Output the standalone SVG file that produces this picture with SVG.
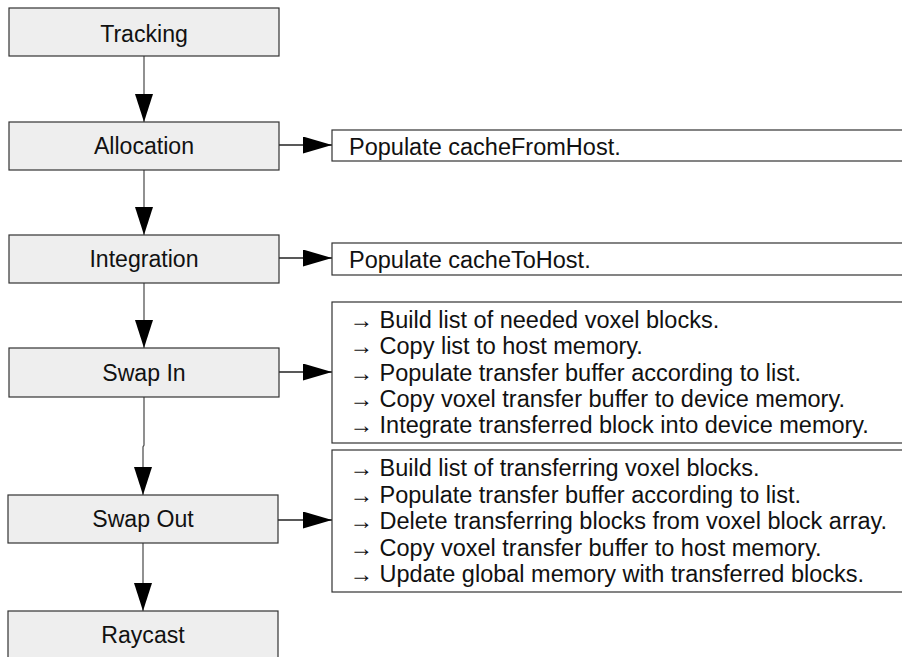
<svg xmlns="http://www.w3.org/2000/svg" width="902" height="657" viewBox="0 0 902 657">
<style>
.node rect{fill:#eeeeee;stroke:#333;stroke-width:1.2}
.note rect{fill:#fff;stroke:#333;stroke-width:1.2}
text{font-family:"Liberation Sans",Arial,sans-serif;font-size:23.1px;fill:#111}
.note text{font-size:23.5px}
.c{text-anchor:middle}
.conn path{fill:none;stroke:#555;stroke-width:1.3}
.conn path.r{stroke:#222}
</style>
<defs>
<marker id="ah" viewBox="0 0 28 18" refX="28" refY="9" markerWidth="28" markerHeight="18" markerUnits="userSpaceOnUse" orient="auto">
<path d="M0,0 L28,9 L0,18 Z" fill="#000"/>
</marker>
<marker id="ahr" viewBox="0 0 29 17" refX="29" refY="8.5" markerWidth="29" markerHeight="17" markerUnits="userSpaceOnUse" orient="auto">
<path d="M0,0 L29,8.5 L0,17 Z" fill="#000"/>
</marker>
</defs>
<g id="connectors" class="conn">
<path d="M144,56 V122" marker-end="url(#ah)"/>
<path d="M144,170 V235" marker-end="url(#ah)"/>
<path d="M144,283 V348" marker-end="url(#ah)"/>
<path d="M144,397 V445 L143,447 V495" marker-end="url(#ah)"/>
<path d="M143,543 V611" marker-end="url(#ah)"/>
<path class="r" d="M279,145 H332" marker-end="url(#ahr)"/>
<path class="r" d="M279,258 H332" marker-end="url(#ahr)"/>
<path class="r" d="M279,372 H332" marker-end="url(#ahr)"/>
<path class="r" d="M278,520 H332" marker-end="url(#ahr)"/>
</g>
<g id="tracking" class="node"><rect x="9" y="8" width="270" height="48"/><text class="c" x="144" y="41.5">Tracking</text></g>
<g id="allocation" class="node"><rect x="9" y="122" width="270" height="48"/><text class="c" x="144" y="154">Allocation</text></g>
<g id="integration" class="node"><rect x="9" y="235" width="270" height="48"/><text class="c" x="144" y="267">Integration</text></g>
<g id="swapin" class="node"><rect x="9" y="348" width="270" height="49"/><text class="c" x="144" y="381">Swap In</text></g>
<g id="swapout" class="node"><rect x="8" y="495" width="270" height="48"/><text class="c" x="143" y="527">Swap Out</text></g>
<g id="raycast" class="node"><rect x="8" y="611" width="270" height="48"/><text class="c" x="143" y="643">Raycast</text></g>
<g id="note-alloc" class="note"><rect x="332" y="130" width="580" height="31"/><text x="349" y="155">Populate cacheFromHost.</text></g>
<g id="note-integ" class="note"><rect x="332" y="243" width="580" height="32"/><text x="349" y="268">Populate cacheToHost.</text></g>
<g id="note-swapin" class="note"><rect x="332" y="302" width="580" height="141"/>
<text x="349.5" y="328">→ Build list of needed voxel blocks.</text>
<text x="349.5" y="354">→ Copy list to host memory.</text>
<text x="349.5" y="380.5">→ Populate transfer buffer according to list.</text>
<text x="349.5" y="407">→ Copy voxel transfer buffer to device memory.</text>
<text x="349.5" y="433">→ Integrate transferred block into device memory.</text>
</g>
<g id="note-swapout" class="note"><rect x="332" y="450" width="580" height="142"/>
<text x="349.5" y="476">→ Build list of transferring voxel blocks.</text>
<text x="349.5" y="502.5">→ Populate transfer buffer according to list.</text>
<text x="349.5" y="529">→ Delete transferring blocks from voxel block array.</text>
<text x="349.5" y="555.5">→ Copy voxel transfer buffer to host memory.</text>
<text x="349.5" y="582">→ Update global memory with transferred blocks.</text>
</g>
</svg>
